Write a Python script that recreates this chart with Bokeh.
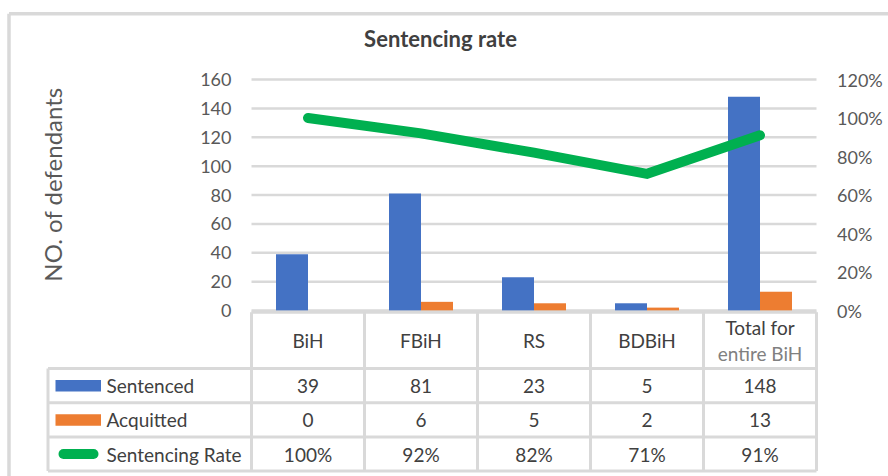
import numpy as np
from bokeh.plotting import figure
from bokeh.models import Range1d
from bokeh.core.properties import value
from bokeh.embed import file_html
from bokeh.resources import INLINE

# ---------------- data ----------------
categories = ["BiH", "FBiH", "RS", "BDBiH", "Total for entire BiH"]
category_lines = [["BiH"], ["FBiH"], ["RS"], ["BDBiH"], ["Total for", "entire BiH"]]
sentenced = [39, 81, 23, 5, 148]
acquitted = [0, 6, 5, 2, 13]
sentencing_rate = [1.00, 0.92, 0.82, 0.71, 0.91]
left_ticks = [0, 20, 40, 60, 80, 100, 120, 140, 160]
right_ticks = [0.0, 0.2, 0.4, 0.6, 0.8, 1.0, 1.2]
series_names = ["Sentenced", "Acquitted", "Sentencing Rate"]
title_text = "Sentencing rate"
y_label = "NO. of defendants"

# ---------------- layout ----------------
FIG_W, FIG_H = 888, 476
PX_X = 113.0            # px per category
X0_FIG = 251.0          # px of category axis start
ZERO_FIG = 310.0        # px of value 0
PX_Y = 231.0 / 160.0    # px per unit
PCT_SCALE = 1.2 / 160.0

def xd(px):
    return (px - X0_FIG) / PX_X

def yd(py):
    return (ZERO_FIG - py) / PX_Y

x_start = -X0_FIG / PX_X
x_end = (FIG_W - X0_FIG) / PX_X
y_end = ZERO_FIG / PX_Y
y_start = -(FIG_H - ZERO_FIG) / PX_Y

FONT = value("Lato")
GRID = "#D9D9D9"
TXT = "#404040"
TICK = "#595959"
BLUE, ORANGE, GREEN = "#4472C4", "#ED7D31", "#00B050"

p = figure(width=FIG_W, height=FIG_H, output_backend="svg", toolbar_location=None,
           x_axis_location=None, y_axis_location=None, title=None,
           x_range=Range1d(x_start, x_end), y_range=Range1d(y_start, y_end),
           min_border_left=0, min_border_top=0, min_border_bottom=0, min_border_right=0)
p.outline_line_color = None
p.xgrid.visible = False
p.ygrid.visible = False
p.background_fill_color = "white"
p.border_fill_color = "white"
p.extra_y_ranges = {"pct": Range1d(y_start * PCT_SCALE, y_end * PCT_SCALE)}

n = len(categories)
idx = np.arange(n) + 0.5

# outer chart border
p.segment(x0=[xd(8.5), xd(8.5)], y0=[yd(13.3), yd(13.3)],
          x1=[x_end + 1, xd(8.5)], y1=[yd(13.3), y_start - 5],
          line_color=GRID, line_width=3.5)

# title & y label
p.text(x=[xd(440)], y=[yd(38)], text=[title_text], text_font=FONT,
       text_font_size="22px", text_font_style="bold", text_color=TXT,
       text_align="center", text_baseline="middle")
p.text(x=[xd(52)], y=[yd(184)], text=[y_label], angle=np.pi / 2, text_font=FONT,
       text_font_size="24px", text_color=TICK,
       text_align="center", text_baseline="middle")

# gridlines and left tick labels
p.segment(x0=[0] * len(left_ticks), x1=[n] * len(left_ticks), y0=left_ticks, y1=left_ticks,
          line_color=GRID, line_width=2.5)
p.text(x=[xd(231)] * len(left_ticks), y=left_ticks, text=[str(t) for t in left_ticks],
       text_font=FONT, text_font_size="18px", text_color=TICK,
       text_align="right", text_baseline="middle")

# right (secondary) tick labels
p.text(x=[xd(836.5)] * len(right_ticks), y=right_ticks, y_range_name="pct",
       text=[f"{round(t * 100)}%" for t in right_ticks],
       text_font=FONT, text_font_size="18px", text_color=TICK,
       text_align="left", text_baseline="middle")

# bars
bw = 32.0 / PX_X
p.vbar(x=idx - bw / 2, top=sentenced, bottom=0, width=bw, fill_color=BLUE, line_color=None)
p.vbar(x=idx + bw / 2, top=acquitted, bottom=0, width=bw, fill_color=ORANGE, line_color=None)

# rate line
p.line(x=idx, y=sentencing_rate, y_range_name="pct", line_color=GREEN, line_width=10,
       line_cap="round", line_join="miter")

# ---------------- data table ----------------
y_head_top = yd(311.7)
row_edges = [yd(368.0), yd(402.3), yd(436.5), yd(470.5)]
x_leg = xd(47.5)

# horizontal lines
p.segment(x0=[0], x1=[n], y0=[y_head_top], y1=[y_head_top], line_color=GRID, line_width=3)
p.segment(x0=[x_leg] * len(row_edges), x1=[n] * len(row_edges), y0=row_edges, y1=row_edges,
          line_color=GRID, line_width=3)
# vertical lines
p.segment(x0=list(range(n + 1)), x1=list(range(n + 1)), y0=[y_head_top] * (n + 1),
          y1=[row_edges[-1]] * (n + 1), line_color=GRID, line_width=3)
p.segment(x0=[x_leg], x1=[x_leg], y0=[row_edges[0]], y1=[row_edges[-1]],
          line_color=GRID, line_width=3)

# header text
for i, lines in enumerate(category_lines):
    if len(lines) == 1:
        p.text(x=[idx[i]], y=[yd(340)], text=[lines[0]], text_font=FONT, text_font_size="19px",
               text_color=TXT, text_align="center", text_baseline="middle")
    else:
        p.text(x=[idx[i]], y=[yd(327)], text=[lines[0]], text_font=FONT, text_font_size="19px",
               text_color=TXT, text_align="center", text_baseline="middle")
        p.text(x=[idx[i]], y=[yd(353)], text=[lines[1]], text_font=FONT, text_font_size="19px",
               text_color="#808080", text_align="center", text_baseline="middle")

row_centers = [(row_edges[k] + row_edges[k + 1]) / 2 for k in range(3)]
row_values = [
    [str(v) for v in sentenced],
    [str(v) for v in acquitted],
    [f"{round(v * 100)}%" for v in sentencing_rate],
]
for k in range(3):
    p.text(x=list(idx), y=[row_centers[k]] * n, text=row_values[k], text_font=FONT,
           text_font_size="19px", text_color=TXT, text_align="center", text_baseline="middle")
    p.text(x=[xd(106)], y=[row_centers[k]], text=[series_names[k]], text_font=FONT,
           text_font_size="19px", text_color=TXT, text_align="left", text_baseline="middle")

# legend keys
sw_h = 11.5 / PX_Y
p.quad(left=[xd(55)], right=[xd(100.5)], bottom=[row_centers[0] - sw_h / 2],
       top=[row_centers[0] + sw_h / 2], fill_color=BLUE, line_color=None)
p.quad(left=[xd(55)], right=[xd(100.5)], bottom=[row_centers[1] - sw_h / 2],
       top=[row_centers[1] + sw_h / 2], fill_color=ORANGE, line_color=None)
p.segment(x0=[xd(63)], x1=[xd(93)], y0=[row_centers[2]], y1=[row_centers[2]],
          line_color=GREEN, line_width=10, line_cap="round")

open("out.html", "w").write(file_html(p, INLINE))
